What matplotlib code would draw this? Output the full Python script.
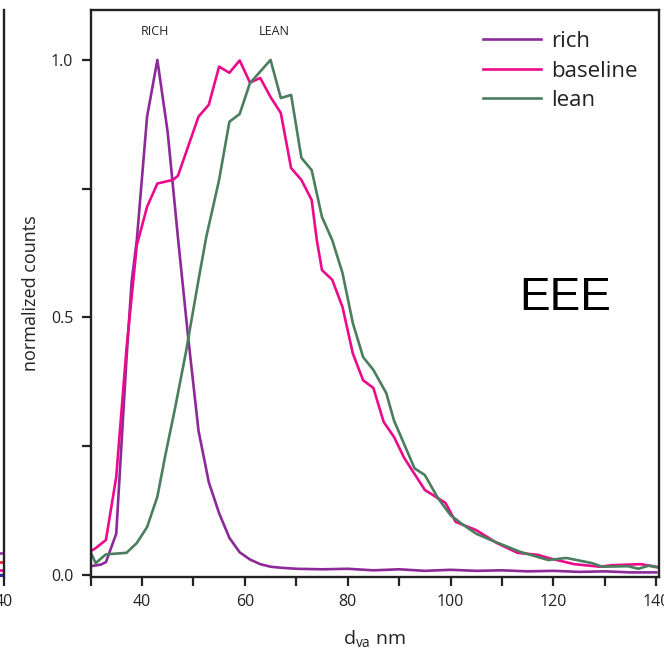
import numpy as np
import matplotlib
matplotlib.use("Agg")
import matplotlib.pyplot as plt

#####################################
# size distributions
rich_d = [30, 32, 33, 35, 36, 37, 38, 39, 41, 43, 45, 47, 49, 51, 53, 55, 57, 59, 61, 63, 65,
          67, 70, 75, 80, 85, 90, 95, 100, 105, 110, 115, 120, 125, 130, 135, 140]
rich = [0.017, 0.02, 0.025, 0.08, 0.25, 0.42, 0.57, 0.65, 0.89, 1.0, 0.86, 0.655, 0.46, 0.28,
        0.18, 0.12, 0.072, 0.044, 0.03, 0.021, 0.016, 0.014, 0.012, 0.011, 0.012, 0.009,
        0.011, 0.008, 0.01, 0.008, 0.009, 0.007, 0.008, 0.006, 0.007, 0.005, 0.005]

base_d = [30, 31, 33, 35, 37, 39, 41, 43, 46, 47, 51, 53, 55, 57, 59, 61, 63, 65, 67, 69, 71,
          73, 74, 75, 77, 79, 81, 83, 85, 87, 89, 91, 95, 99, 101, 105, 109, 113, 117, 119,
          124, 129, 131.5, 137, 140]
baseline = [0.046, 0.052, 0.068, 0.19, 0.44, 0.64, 0.715, 0.76, 0.767, 0.775, 0.89, 0.913,
            0.987, 0.975, 0.999, 0.956, 0.965, 0.928, 0.897, 0.79, 0.767, 0.728, 0.65, 0.592,
            0.573, 0.52, 0.43, 0.378, 0.363, 0.297, 0.268, 0.227, 0.165, 0.14, 0.103, 0.087,
            0.062, 0.043, 0.039, 0.033, 0.021, 0.016, 0.019, 0.021, 0.016]

lean_d = [30, 31, 33, 37, 39, 41, 43, 44.5, 46.5, 48.5, 51, 52.5, 55, 57, 59, 61, 65, 67, 69,
          71, 73, 75, 77, 79, 81, 83, 85, 87.5, 89, 93, 95, 97.5, 100, 102.5, 105, 108.5,
          113.5, 119, 122.5, 127.5, 129.5, 134.5, 136.5, 138.5, 140.5]
lean = [0.045, 0.023, 0.04, 0.043, 0.062, 0.093, 0.152, 0.23, 0.327, 0.43, 0.573, 0.656, 0.767,
        0.88, 0.895, 0.955, 1.0, 0.926, 0.932, 0.81, 0.786, 0.695, 0.65, 0.586, 0.489, 0.423,
        0.398, 0.353, 0.3, 0.207, 0.194, 0.15, 0.116, 0.097, 0.08, 0.065, 0.045, 0.029, 0.033,
        0.023, 0.016, 0.017, 0.012, 0.018, 0.014]

# neighbouring panel, only its right edge is in the crop
side_d = [36, 40]
side_purple = [0.043, 0.043]
side_red = [0.026, 0.026]
side_magenta = [0.01, 0.01]
side_blue = [0.0, 0.0]
#####################################

plt.rcParams['font.family'] = ['Open Sans', 'DejaVu Sans']

fig = plt.figure(figsize=(6.64, 6.52), dpi=100)
ax = fig.add_axes([0.1363, 0.115, 0.856, 0.8697])
side = fig.add_axes([-0.30, 0.115, 0.3053, 0.8697])

ax.plot(rich_d, rich, color='#8b2a98', lw=1.9, label='rich')
ax.plot(base_d, baseline, color='#ec0a8c', lw=1.9, label='baseline')
ax.plot(lean_d, lean, color='#4b7d5f', lw=1.9, label='lean')

ax.set_xlim(30, 140.5)
ax.set_ylim(-0.004, 1.097)
ax.set_xticks([40, 60, 80, 100, 120, 140])
ax.set_xticks([30, 50, 70, 90, 110, 130], minor=True)
ax.set_yticks([0.0, 0.5, 1.0])
ax.set_yticks([0.25, 0.75], minor=True)
ax.tick_params(which='both', direction='out', length=6.5, width=1.6, pad=6,
               labelsize=11.5, colors='#222222')
for s in ax.spines.values():
    s.set_linewidth(1.7)
    s.set_color('#222222')

ax.set_ylabel('normalized counts', fontsize=13, color='#222222', labelpad=8)
ax.set_xlabel('d$_{\\mathregular{va}}$ nm', fontsize=14, color='#222222', labelpad=13)

ax.text(42.5, 1.056, 'RICH', fontsize=9, ha='center', va='center', color='#222222')
ax.text(65.8, 1.056, 'LEAN', fontsize=9, ha='center', va='center', color='#222222')
ax.text(122.3, 0.538, 'EEE', fontsize=33, ha='center', va='center', family='Liberation Sans')

leg = ax.legend(loc='upper right', frameon=False, fontsize=16, handlelength=2.6,
                handletextpad=0.45, labelspacing=0.38, borderaxespad=0.55)
for t in leg.get_texts():
    t.set_color('#222222')

# left neighbour
side.plot(side_d, side_purple, color='#9b2fa0', lw=1.9)
side.plot(side_d, side_red, color='#e8202a', lw=1.9)
side.plot(side_d, side_magenta, color='#ec008c', lw=1.9)
side.plot(side_d, side_blue, color='#2a2f9a', lw=2.5)
side.set_xlim(0, 40)
side.set_ylim(-0.004, 1.097)
side.set_yticks([])
side.set_xticks([40])
side.tick_params(direction='out', length=6.5, width=1.6, pad=6, labelsize=11.5, colors='#222222')
for k in ['top', 'bottom', 'left']:
    side.spines[k].set_visible(False)
side.spines['right'].set_linewidth(1.7)
side.spines['right'].set_color('#222222')

plt.savefig('out.png', dpi=100)
